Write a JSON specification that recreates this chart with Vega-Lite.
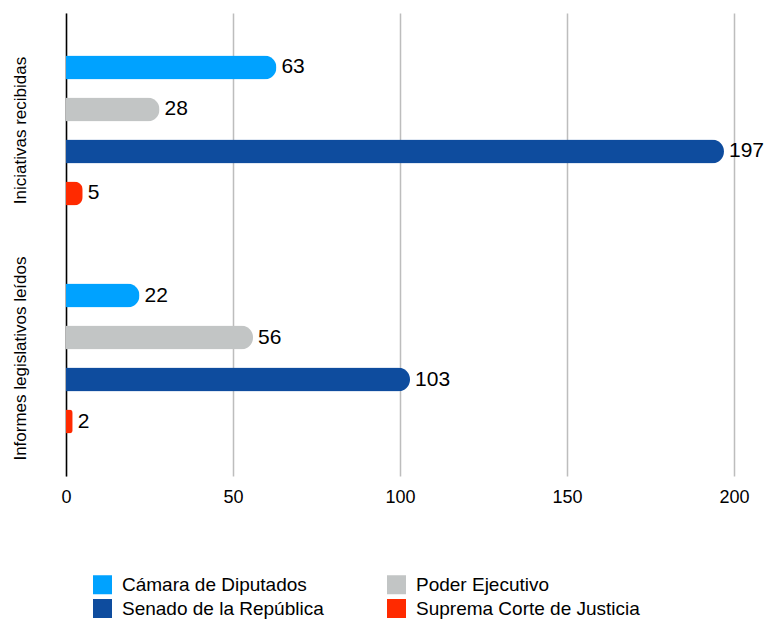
{
  "$schema": "https://vega.github.io/schema/vega-lite/v6.json",
  "width": 668,
  "height": 463,
  "autosize": {"type": "none"},
  "padding": {"left": 66, "top": 13, "right": 33, "bottom": 144},
  "config": {
    "font": "Liberation Sans",
    "view": {"stroke": null},
    "axis": {"labelColor": "#000000", "labelFont": "Liberation Sans"}
  },
  "data": {
    "values": [
      {"grupo": "Iniciativas recibidas", "serie": "Cámara de Diputados", "valor": 63},
      {"grupo": "Iniciativas recibidas", "serie": "Poder Ejecutivo", "valor": 28},
      {"grupo": "Iniciativas recibidas", "serie": "Senado de la República", "valor": 197},
      {"grupo": "Iniciativas recibidas", "serie": "Suprema Corte de Justicia", "valor": 5},
      {"grupo": "Informes legislativos leídos", "serie": "Cámara de Diputados", "valor": 22},
      {"grupo": "Informes legislativos leídos", "serie": "Poder Ejecutivo", "valor": 56},
      {"grupo": "Informes legislativos leídos", "serie": "Senado de la República", "valor": 103},
      {"grupo": "Informes legislativos leídos", "serie": "Suprema Corte de Justicia", "valor": 2}
    ]
  },
  "encoding": {
    "y": {
      "field": "grupo",
      "type": "nominal",
      "sort": ["Iniciativas recibidas", "Informes legislativos leídos"],
      "scale": {"paddingInner": 0, "paddingOuter": 0.015},
      "axis": {
        "title": null,
        "labelAngle": -90,
        "labelAlign": "center",
        "labelBaseline": "bottom",
        "labelFontSize": 17,
        "labelPadding": 37,
        "labelLimit": 0,
        "ticks": false,
        "domain": true,
        "domainColor": "#000000",
        "domainWidth": 1.5,
        "grid": false
      }
    },
    "yOffset": {
      "field": "serie",
      "type": "nominal",
      "sort": ["Cámara de Diputados", "Poder Ejecutivo", "Senado de la República", "Suprema Corte de Justicia"],
      "scale": {"paddingInner": 0.43, "paddingOuter": 0.93}
    },
    "x": {
      "field": "valor",
      "type": "quantitative",
      "scale": {"domain": [0, 200], "nice": false},
      "axis": {
        "title": null,
        "values": [0, 50, 100, 150, 200],
        "labelFontSize": 18,
        "labelPadding": 12,
        "labelFlush": false,
        "ticks": false,
        "domain": false,
        "grid": true,
        "gridColor": "#BDBDBD",
        "gridWidth": 1.5
      }
    }
  },
  "layer": [
    {
      "mark": {"type": "bar", "cornerRadiusEnd": 12},
      "encoding": {
        "color": {
          "field": "serie",
          "type": "nominal",
          "scale": {
            "domain": ["Cámara de Diputados", "Poder Ejecutivo", "Senado de la República", "Suprema Corte de Justicia"],
            "range": ["#00A2FF", "#C2C5C5", "#0E4C9E", "#FF2A00"]
          },
          "legend": {
            "title": null,
            "orient": "none",
            "legendX": 27,
            "legendY": 562,
            "direction": "horizontal",
            "columns": 2,
            "symbolType": "square",
            "symbolSize": 361,
            "symbolStrokeWidth": 0,
            "labelFontSize": 19,
            "labelOffset": 10,
            "labelLimit": 0,
            "labelColor": "#000000",
            "rowPadding": 4,
            "columnPadding": 63,
            "padding": 0,
            "values": ["Cámara de Diputados", "Poder Ejecutivo", "Senado de la República", "Suprema Corte de Justicia"]
          }
        }
      }
    },
    {
      "mark": {"type": "text", "align": "left", "baseline": "middle", "dx": 5, "fontSize": 21, "color": "#000000"},
      "encoding": {"text": {"field": "valor", "type": "quantitative"}}
    }
  ]
}
